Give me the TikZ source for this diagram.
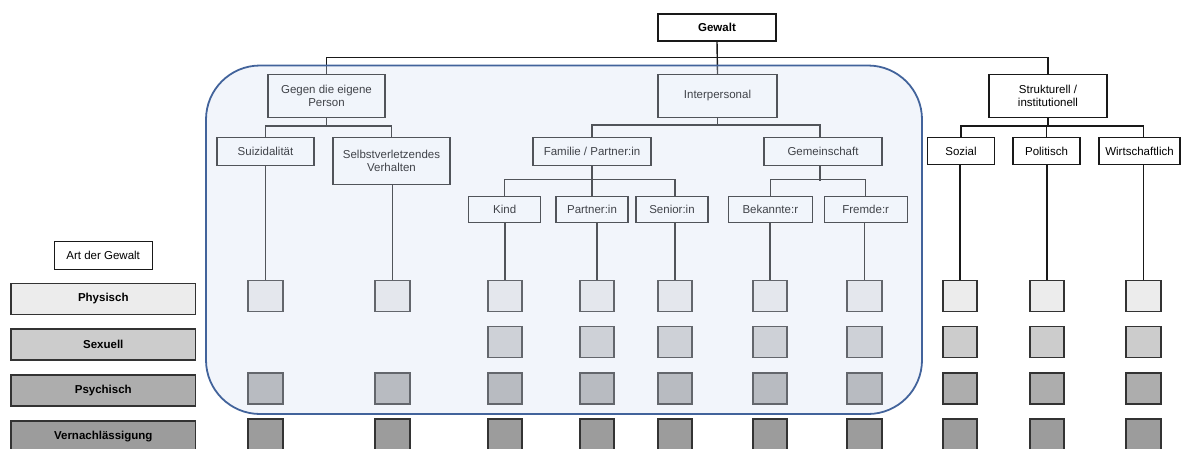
\documentclass[tikz,border=0pt]{standalone}
\usepackage{fontspec}
\setmainfont{Liberation Sans}
\usepackage{tikz}

\definecolor{schleier}{RGB}{211,222,242}
\definecolor{rahmenblau}{RGB}{66,99,155}
\definecolor{stufeA}{RGB}{236,236,236}
\definecolor{stufeB}{RGB}{204,204,204}
\definecolor{stufeC}{RGB}{173,173,173}
\definecolor{stufeD}{RGB}{156,156,156}

\tikzset{
	kasten/.style={draw=black!90, fill=white, line width=1.4pt, inner sep=0pt, align=center, font=\fontsize{11.5}{13}\selectfont},
	feld/.style={draw=black!80, line width=1.7pt, minimum width=34.5pt, minimum height=31pt, inner sep=0pt},
	linie/.style={draw=black!90, line width=1.4pt},
}

\begin{document}
\begin{tikzpicture}[x=1pt, y=-1pt]
		\useasboundingbox (0,0) rectangle (1182,448);

		\node[kasten, minimum width=118pt, minimum height=27pt, font=\fontsize{11.5}{13}\selectfont\bfseries] (gewalt) at (717,27.5) {Gewalt};

		\node[kasten, minimum width=117pt, minimum height=43pt] (gegen) at (326.5,96) {Gegen die eigene\\Person};
		\node[kasten, minimum width=119pt, minimum height=43pt] (inter) at (717.5,96) {Interpersonal};
		\node[kasten, minimum width=118pt, minimum height=43pt] (struk) at (1048,96) {Strukturell /\\institutionell};

		\node[kasten, anchor=north, minimum width=97pt, minimum height=28pt] (suizid) at (265.5,137) {Suizidalität};
		\node[kasten, anchor=north, minimum width=117pt, minimum height=47pt] (selbst) at (391.5,137) {Selbstverletzendes\\Verhalten};
		\node[kasten, anchor=north, minimum width=118pt, minimum height=27.5pt] (familie) at (592,137) {Familie / Partner:in};
		\node[kasten, anchor=north, minimum width=118pt, minimum height=27.5pt] (gemein) at (823,137) {Gemeinschaft};
		\node[kasten, anchor=north, minimum width=67pt, minimum height=27pt] (sozial) at (961,137) {Sozial};
		\node[kasten, anchor=north, minimum width=67pt, minimum height=27pt] (politisch) at (1046.5,137) {Politisch};
		\node[kasten, anchor=north, minimum width=81pt, minimum height=27pt] (wirt) at (1139.5,137) {Wirtschaftlich};

		\node[kasten, anchor=north, minimum width=72pt, minimum height=26.5pt] (kind) at (504.7,195.5) {Kind};
		\node[kasten, anchor=north, minimum width=72pt, minimum height=26.5pt] (partner) at (592,195.5) {Partner:in};
		\node[kasten, anchor=north, minimum width=72pt, minimum height=26.5pt] (senior) at (672,195.5) {Senior:in};
		\node[kasten, anchor=north, minimum width=84pt, minimum height=26.5pt] (bekannte) at (770.3,195.5) {Bekannte:r};
		\node[kasten, anchor=north, minimum width=83pt, minimum height=26.5pt] (fremde) at (865.7,195.5) {Fremde:r};

		\foreach \spalte/\x in {suizid/265.5, selbst/392.5, kind/505, partner/597, senior/675, bekannte/770, fremde/864.5, sozial/960, politisch/1047, wirt/1143.5} {
			\foreach \zeile/\y/\farbe in {1/296/stufeA, 3/388.5/stufeC, 4/434.7/stufeD}
				\node[feld, fill=\farbe] (q-\spalte-\zeile) at (\x,\y) {};
			\draw[linie] (\spalte.south -| q-\spalte-1.north) -- (q-\spalte-1.north);
		}
		\foreach \spalte/\x in {kind/505, partner/597, senior/675, bekannte/770, fremde/864.5, sozial/960, politisch/1047, wirt/1143.5}
			\node[feld, fill=stufeB] (q-\spalte-2) at (\x,342) {};

		\draw[linie] (gegen.north) -- ++(0,-16.5) -| (struk.north);
		\draw[linie] (gewalt.south) -- (inter.north);
		\draw[linie] (gegen.south) -- ++(0,9);
		\draw[linie] (suizid.north) -- ++(0,-11) -| (selbst.north);
		\draw[linie] (inter.south) -- ++(0,8);
		\draw[linie] (familie.north) -- ++(0,-12) -| ([xshift=-3pt]gemein.north);
		\draw[linie] (familie.south) -- ++(0,15);
		\draw[linie] (kind.north) -- ++(0,-16) -| (senior.north -| q-senior-1.north);
		\draw[linie] (partner.north) -- ++(0,-16);
		\draw[linie] ([xshift=-3pt]gemein.south) -- ++(0,15);
		\draw[linie] (bekannte.north) -- ++(0,-16) -| (fremde.north);
		\draw[linie] (struk.south) -- ++(0,8.5);
		\draw[linie] (sozial.north) -- ++(0,-11) -| (wirt.north -| q-wirt-1.north);
		\draw[linie] (politisch.north) -- ++(0,-11);

		\node[kasten, minimum width=98pt, minimum height=27.5pt] (art) at (103.2,255.5) {Art der Gewalt};
		\foreach \i/\y/\farbe/\wort in {1/298.8/stufeA/Physisch, 2/344.5/stufeB/Sexuell, 3/390.5/stufeC/Psychisch, 4/436.5/stufeD/Vernachlässigung}
			\node[feld, line width=1.5pt, fill=\farbe, minimum width=184.7pt, font=\fontsize{11.5}{13}\selectfont\bfseries] (art-\i) at (103.3,\y) {\wort};

		\fill[schleier, fill opacity=0.3, rounded corners=54pt] (206,65.5) rectangle (922,414);
		\draw[rahmenblau, line width=1.8pt, rounded corners=54pt] (206,65.5) rectangle (922,414);
	\end{tikzpicture}
\end{document}
